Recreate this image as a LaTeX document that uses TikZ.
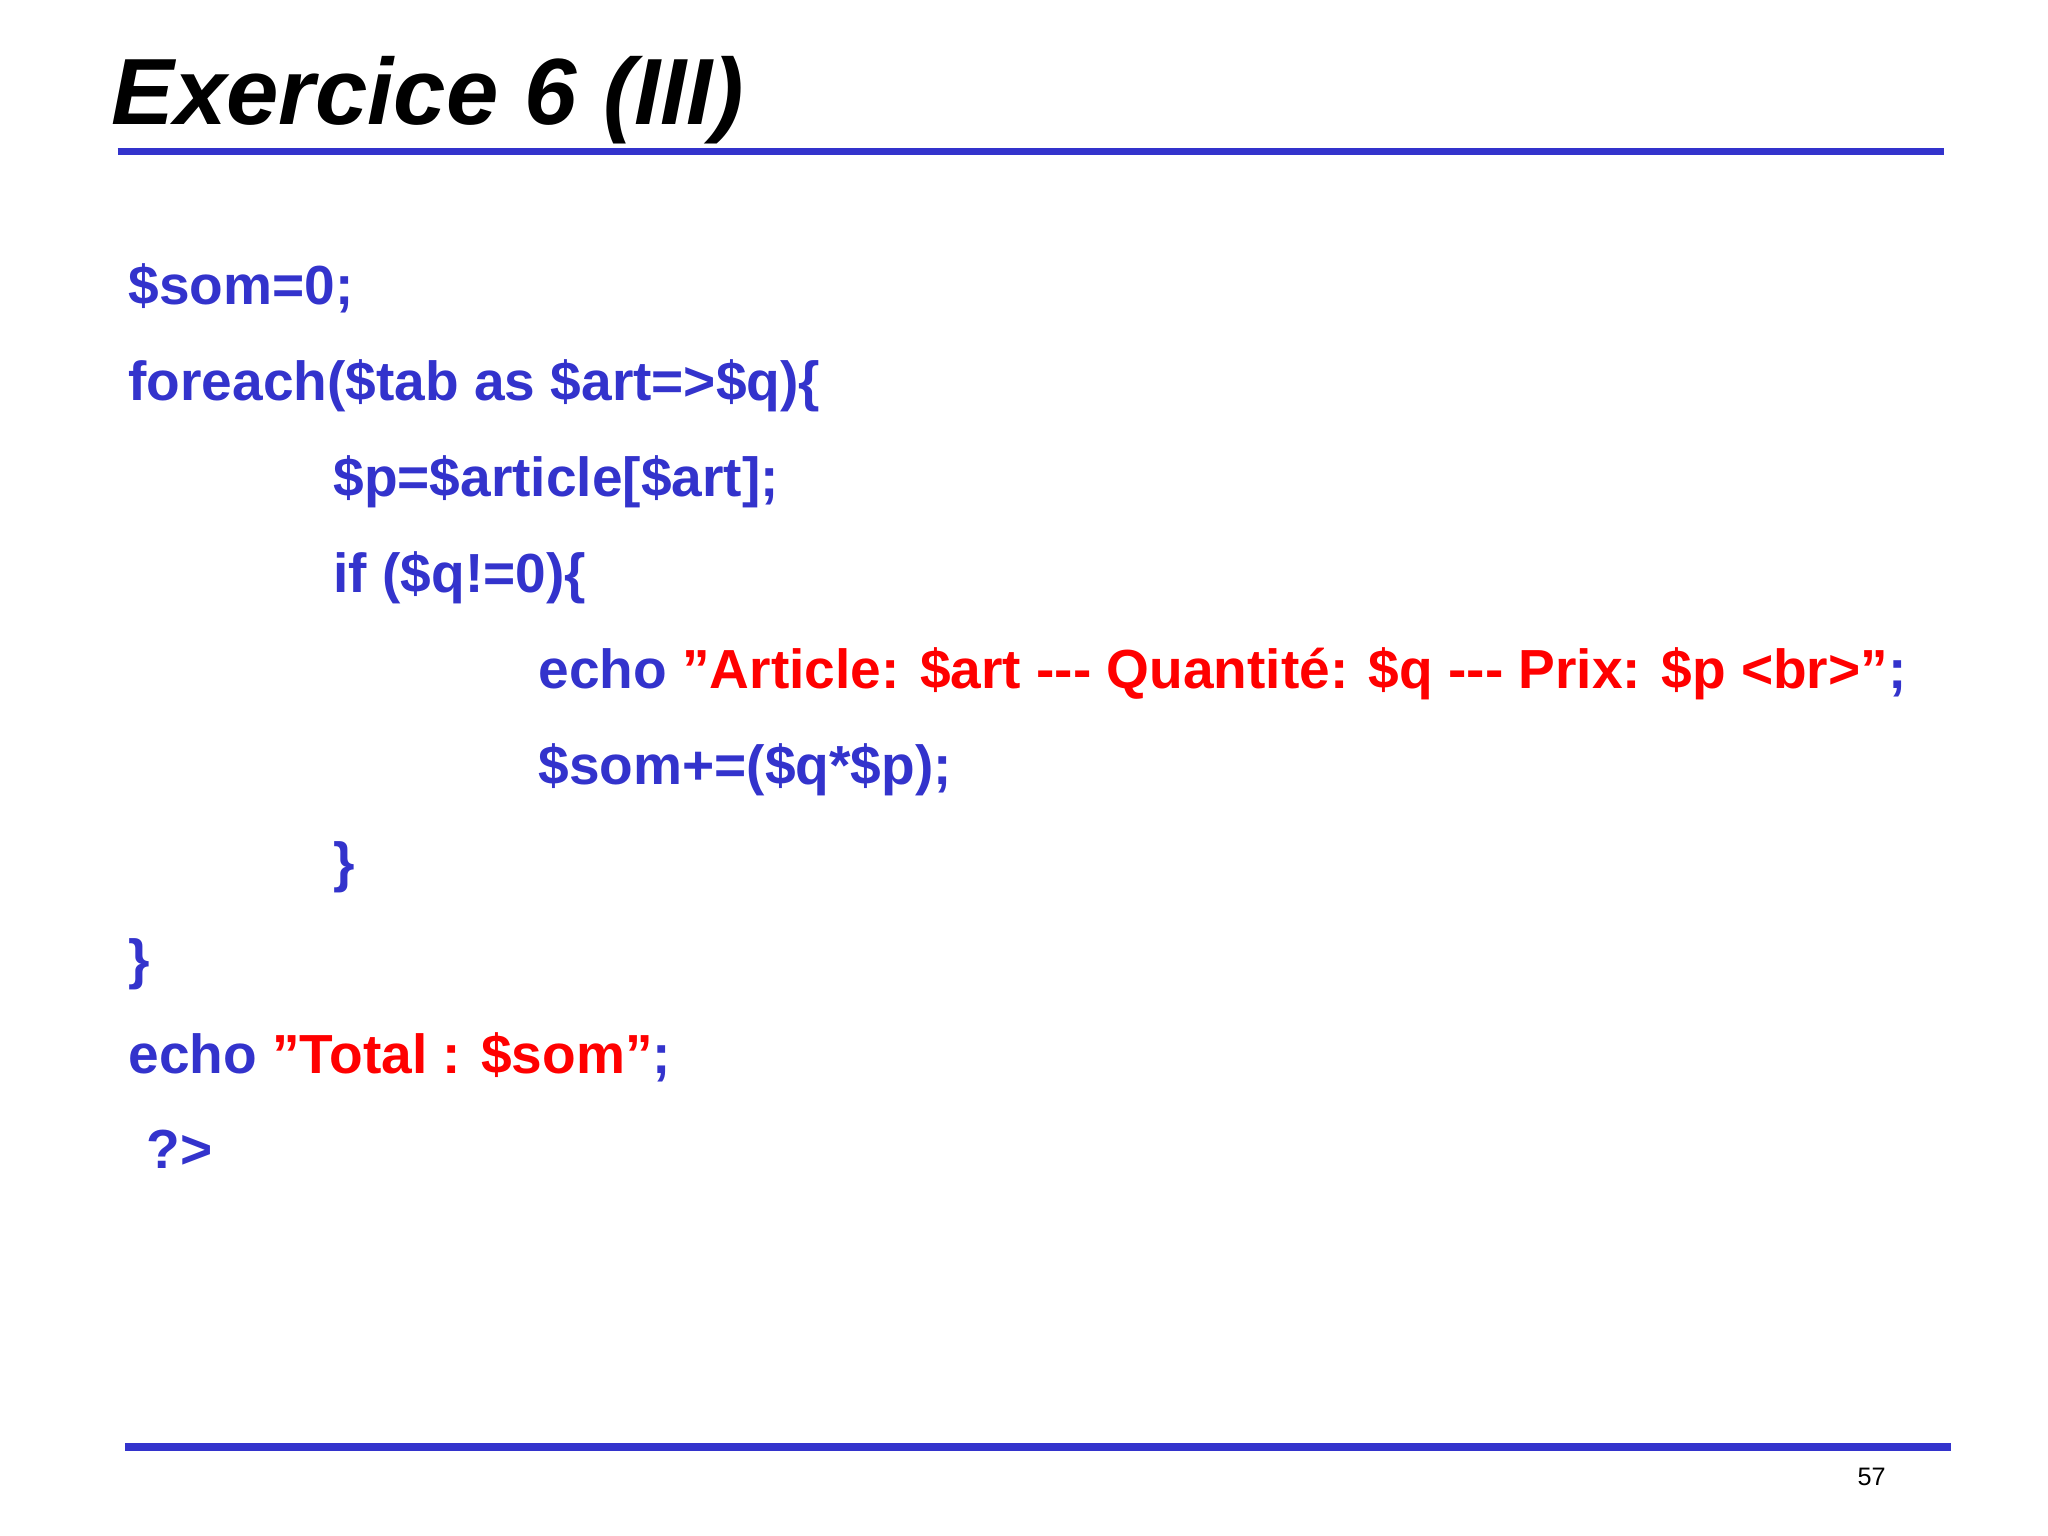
\documentclass[tikz,border=0pt]{standalone}
\usepackage{fontspec}
\setmainfont{Liberation Sans}
\definecolor{codeblue}{HTML}{3333CC}
\definecolor{codered}{HTML}{FF0000}
\begin{document}
\begin{tikzpicture}[x=0.02cm,y=-0.02cm,
  code/.style={anchor=base west,inner sep=0pt,font=\fontsize{24}{28}\selectfont\bfseries,text=codeblue},
  rule/.style={draw=codeblue,line width=6*0.02cm}]
\useasboundingbox (0,0) rectangle (1568,1176);
\node[anchor=base west,inner sep=0pt,font=\fontsize{41}{48}\selectfont\bfseries\itshape] (title) at (85,95) {Exercice 6 (III)};
\coordinate (t1) at (90,116); \coordinate (t2) at (1488,116);
\draw[rule] (t1) -- (t2);
\node[code] (l1) at (98,233) {\$som=0;};
\node[code] (l2) at (98,307) {foreach(\$tab as \$art=>\$q)\{};
\node[code] (l3) at (255,380) {\$p=\$article[\$art];};
\node[code] (l4) at (255,454) {if (\$q!=0)\{};
\node[code] (l5) at (412,527) {echo \textcolor{codered}{"Article: \$art -{}-{}- Quantité: \$q -{}-{}- Prix: \$p <br>"};};
\node[code] (l6) at (412,601) {\$som+=(\$q*\$p);};
\node[code] (l7) at (255,675) {\}};
\node[code] (l8) at (98,749) {\}};
\node[code] (l9) at (98,822) {echo \textcolor{codered}{"Total : \$som"};};
\node[code] (l10) at (112,895) {?>};
\coordinate (b1) at (96,1108); \coordinate (b2) at (1494,1108);
\draw[rule] (b1) -- (b2);
\node[anchor=base east,inner sep=0pt,font=\fontsize{11}{13}\selectfont] (pg) at (1444,1137) {57};
\end{tikzpicture}
\end{document}
